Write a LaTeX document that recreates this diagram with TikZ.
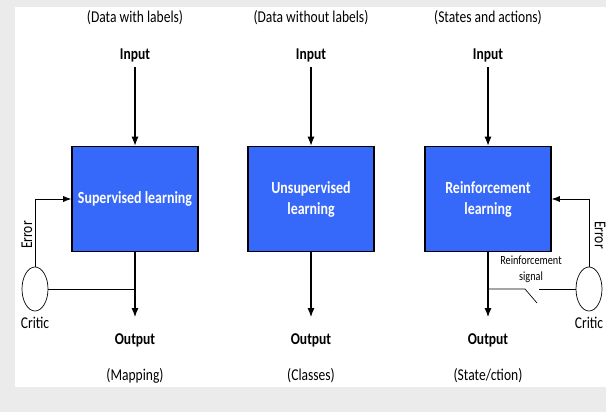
\documentclass[tikz,border=0pt]{standalone}
\usepackage{fontspec}
\setmainfont{Carlito}[FakeStretch=0.82]
\usetikzlibrary{shapes.geometric,arrows.meta}
\definecolor{panelgray}{RGB}{235,235,235}
\definecolor{boxblue}{RGB}{54,104,250}
\begin{document}
\begin{tikzpicture}[x=1pt,y=-1pt,
  every node/.style={font=\fontsize{16.5}{18}\selectfont},
  learner/.style={draw=black,line width=1.6pt,fill=boxblue,minimum width=126pt,minimum height=105pt,
    text=white,font=\fontsize{17}{21}\selectfont\bfseries,align=center,inner sep=0pt},
  iolabel/.style={font=\fontsize{16.5}{18}\selectfont\bfseries,inner sep=0pt},
  caption/.style={inner sep=0pt},
  critic/.style={draw=black,ellipse,fill=white,minimum width=26pt,minimum height=44pt,inner sep=0pt,line width=0.7pt},
  flow/.style={-{Latex[length=9pt,width=7pt]},line width=1.1pt},
  fb/.style={line width=0.7pt},
  fbarrow/.style={-{Latex[length=8pt,width=6pt]},line width=0.7pt}]
% page and panel
\fill[panelgray] (0,0) rectangle (606,412);
\fill[white] (15,7) rectangle (606,387);
\useasboundingbox (0,0) rectangle (606,412);

% learners
\node[learner] (box1) at (135,199) {Supervised learning};
\node[learner] (box2) at (311,199) {Unsupervised\\learning};
\node[learner] (box3) at (488,199) {Reinforcement\\learning};

% captions above and below
\node[caption] (top1) at (135,18) {(Data with labels)};
\node[caption] (top2) at (311,18) {(Data without labels)};
\node[caption] (top3) at (488,18) {(States and actions)};
\node[caption] (bot1) at (135,376) {(Mapping)};
\node[caption] (bot2) at (311,376) {(Classes)};
\node[caption] (bot3) at (488,376) {(State/ction)};

% inputs and outputs
\node[iolabel] (in1) at (135,55) {Input};
\node[iolabel] (in2) at (311,55) {Input};
\node[iolabel] (in3) at (488,55) {Input};
\node[iolabel] (out1) at (135,340) {Output};
\node[iolabel] (out2) at (311,340) {Output};
\node[iolabel] (out3) at (488,340) {Output};

\draw[flow,shorten <=5pt] (in1.south) -- (box1.north);
\draw[flow,shorten <=5pt] (in2.south) -- (box2.north);
\draw[flow,shorten <=5pt] (in3.south) -- (box3.north);
\draw[flow,shorten >=16pt] (box1.south) -- (out1.north);
\draw[flow,shorten >=16pt] (box2.south) -- (out2.north);
\draw[flow,shorten >=16pt] (box3.south) -- (out3.north);

% supervised feedback loop
\node[critic] (critic1) at (35,289) {};
\node[caption] (crlab1) at (35,323) {Critic};
\node[caption,rotate=90] (err1) at (27,235) {Error};
\coordinate (j1) at (135,289);
\draw[fbarrow] (critic1.north) |- (box1.west);
\draw[fb] (critic1.east) -- (j1);

% reinforcement feedback loop
\node[critic] (critic3) at (589,289) {};
\node[caption] (crlab3) at (589,323) {Critic};
\node[caption,rotate=-90] (err3) at (600,235) {Error};
\draw[fbarrow] (critic3.north) |- (box3.east);
\coordinate (j3) at (488,289);
\coordinate (sw1) at (525,289);
\coordinate (sw2) at (537,303);
\coordinate (sw3) at (539,289);
\draw[fb] (j3) -- (sw1) -- (sw2);
\draw[fb] (sw3) -- (critic3.west);
\node[caption,font=\fontsize{12.5}{16}\selectfont,align=center] (rsig) at (531,269) {Reinforcement\\signal};
\end{tikzpicture}
\end{document}
